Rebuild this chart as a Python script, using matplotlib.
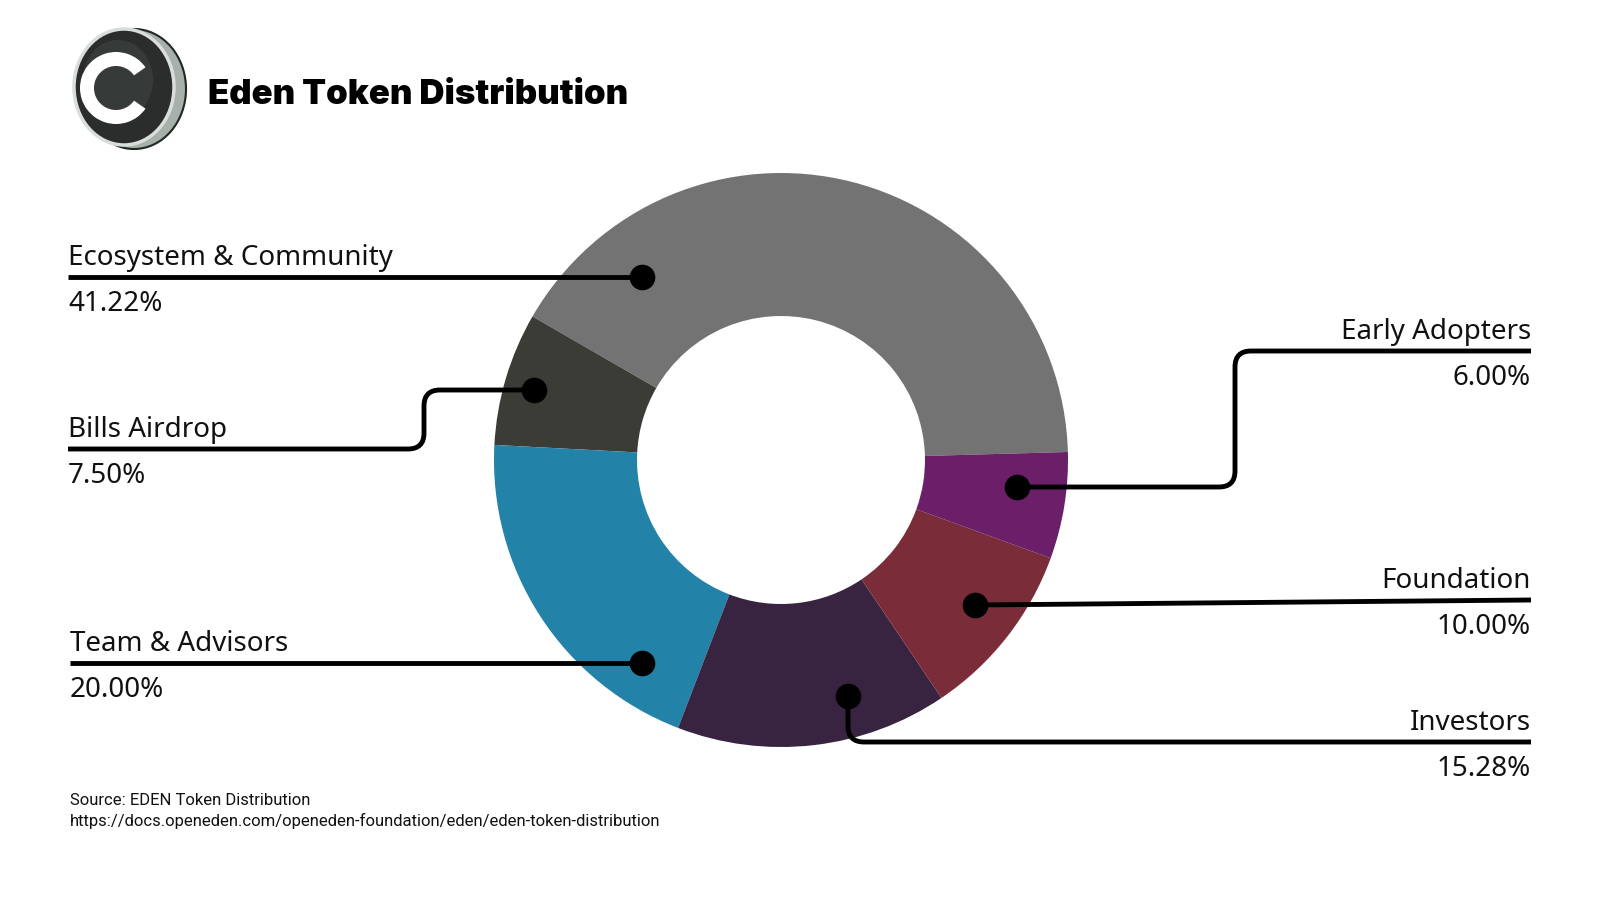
import matplotlib
matplotlib.use("Agg")
import matplotlib.pyplot as plt
import numpy as np
from matplotlib.path import Path
from matplotlib.patches import PathPatch, Ellipse, Wedge


CATEGORIES = ["Ecosystem & Community", "Bills Airdrop", "Team & Advisors", "Investors", "Foundation", "Early Adopters"]
SHARES = [41.22, 7.50, 20.00, 15.28, 10.00, 6.00]
COLORS = ["#737373", "#3c3c36", "#2282a8", "#382341", "#7a2c39", "#6b1f69"]
TITLE = "Eden Token Distribution"
SOURCE = "Source: EDEN Token Distribution"
URL = "https://docs.openeden.com/openeden-foundation/eden/eden-token-distribution"

# leader routes in pixel space (dot first, label end last)
LEADERS = [
    [(642, 277), (68, 277)],
    [(534, 390), (424, 390), (424, 449), (68, 449)],
    [(642, 663), (70, 663)],
    [(848, 696), (848, 742), (1531, 742)],
    [(975, 605), (1531, 600)],
    [(1017, 487), (1235, 487), (1235, 351), (1531, 351)],
]
SIDES = ["left", "left", "left", "right", "right", "right"]

LABEL_FONT = ["Noto Sans", "DejaVu Sans"]


def rounded_path(points, r=16):
    verts = [points[0]]
    codes = [Path.MOVETO]
    for i in range(1, len(points) - 1):
        p0, p1, p2 = (np.array(p, dtype=float) for p in points[i - 1:i + 2])
        d1 = (p0 - p1) / np.linalg.norm(p0 - p1)
        d2 = (p2 - p1) / np.linalg.norm(p2 - p1)
        verts += [tuple(p1 + d1 * r), tuple(p1), tuple(p1 + d2 * r)]
        codes += [Path.LINETO, Path.CURVE3, Path.CURVE3]
    verts.append(points[-1])
    codes.append(Path.LINETO)
    return Path(verts, codes)


fig = plt.figure(figsize=(16, 9), dpi=100)
ax = fig.add_axes([0, 0, 1, 1])

# y axis runs downward, so clockwise here is counter-clockwise on screen
ax.pie(SHARES, colors=COLORS, startangle=-1.6, counterclock=False, center=(781, 460), radius=287,
       wedgeprops=dict(width=143, linewidth=0))
ax.set_xlim(0, 1600)
ax.set_ylim(900, 0)
ax.set_aspect("equal")
ax.axis("off")

for name, share, route, side in zip(CATEGORIES, SHARES, LEADERS, SIDES):
    ax.add_patch(PathPatch(rounded_path(route), fill=False, lw=3.5, edgecolor="black", capstyle="butt", zorder=3))
    ax.scatter(*route[0], s=340, color="black", zorder=4, linewidths=0)
    x_end, y_end = route[-1]
    ha = "left" if side == "left" else "right"
    ax.text(x_end, y_end - 12, name, ha=ha, va="baseline", fontsize=20, family=LABEL_FONT, fontweight="light", color="#111111")
    ax.text(x_end, y_end + 34, f"{share:.2f}%", ha=ha, va="baseline", fontsize=20, family=LABEL_FONT, fontweight="light", color="#111111")

# logo coin
ax.add_patch(Ellipse((134, 89), 104, 120, color="#a7b0ab", zorder=2))
ax.add_patch(Ellipse((134, 89), 104, 120, fill=False, edgecolor="#1f2a24", lw=1.5, zorder=2))
ax.add_patch(Ellipse((124, 87), 100, 116, facecolor="#2a2d2c", edgecolor="#d9dddb", lw=2.5, zorder=3))
ax.add_patch(Ellipse((118, 80), 70, 80, facecolor="#4a4f4d", edgecolor="none", alpha=0.4, zorder=3))
ax.add_patch(Wedge((116, 88), 36, 35, 325, width=14, facecolor="white", edgecolor="none", zorder=4))

ax.text(208, 95, TITLE, ha="left", va="center", fontsize=25, family=["Inter", "DejaVu Sans"], fontweight="black", color="black")
ax.text(70, 805, SOURCE, ha="left", va="baseline", fontsize=12, family=["Roboto", "DejaVu Sans"], color="#111111")
ax.text(70, 826, URL, ha="left", va="baseline", fontsize=12, family=["Roboto", "DejaVu Sans"], color="#111111")

fig.savefig("out.png", dpi=100, facecolor="white")
